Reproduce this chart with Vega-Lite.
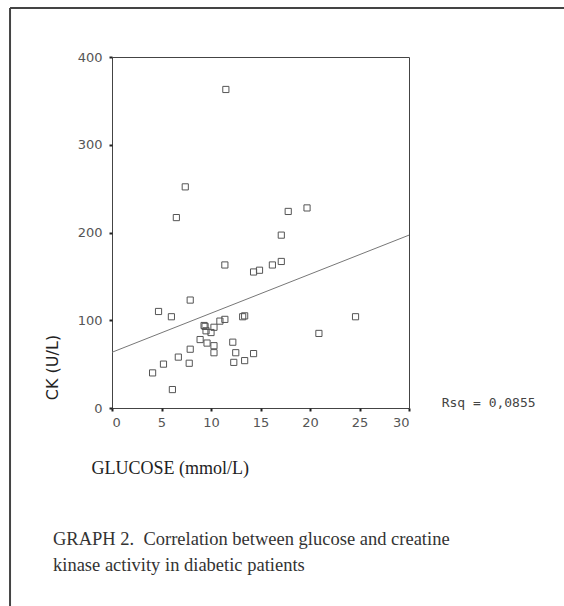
{
  "$schema": "https://vega.github.io/schema/vega-lite/v6.json",
  "autosize": "none",
  "width": 297,
  "height": 351,
  "padding": {"left": 112, "top": 57, "right": 155, "bottom": 198},
  "background": "white",
  "config": {
    "view": {"stroke": "#444", "strokeWidth": 1},
    "axis": {"grid": false, "domain": false, "labelFont": "DejaVu Sans", "labelFontSize": 13, "labelColor": "#555", "tickColor": "#222", "tickSize": 3, "tickWidth": 2}
  },
  "title": {
    "text": ["GRAPH 2.\u00a0 Correlation between glucose and creatine", "kinase activity in diabetic patients"],
    "orient": "bottom",
    "anchor": "start",
    "frame": "group",
    "dx": -59,
    "offset": -77,
    "font": "Liberation Serif",
    "fontSize": 18.5,
    "fontWeight": "normal",
    "color": "#333",
    "lineHeight": 26
  },
  "datasets": {
    "points": [
      {"glucose": 11.5, "ck": 363},
      {"glucose": 7.4, "ck": 252},
      {"glucose": 6.5, "ck": 217},
      {"glucose": 17.8, "ck": 224},
      {"glucose": 19.7, "ck": 228},
      {"glucose": 17.1, "ck": 197},
      {"glucose": 11.4, "ck": 163},
      {"glucose": 16.2, "ck": 163},
      {"glucose": 17.1, "ck": 167},
      {"glucose": 14.3, "ck": 155},
      {"glucose": 14.9, "ck": 157},
      {"glucose": 7.9, "ck": 123},
      {"glucose": 4.7, "ck": 110},
      {"glucose": 6.0, "ck": 104},
      {"glucose": 13.2, "ck": 104},
      {"glucose": 13.4, "ck": 105},
      {"glucose": 11.4, "ck": 101},
      {"glucose": 10.9, "ck": 99},
      {"glucose": 9.3, "ck": 94},
      {"glucose": 9.4, "ck": 93},
      {"glucose": 10.3, "ck": 92},
      {"glucose": 9.5, "ck": 88},
      {"glucose": 10.0, "ck": 86},
      {"glucose": 24.6, "ck": 104},
      {"glucose": 20.9, "ck": 85},
      {"glucose": 8.9, "ck": 78},
      {"glucose": 9.6, "ck": 74},
      {"glucose": 10.3, "ck": 71},
      {"glucose": 12.2, "ck": 75},
      {"glucose": 7.9, "ck": 67},
      {"glucose": 10.3, "ck": 63},
      {"glucose": 12.5, "ck": 63},
      {"glucose": 14.3, "ck": 62},
      {"glucose": 6.7, "ck": 58},
      {"glucose": 5.2, "ck": 50},
      {"glucose": 7.8, "ck": 51},
      {"glucose": 12.3, "ck": 52},
      {"glucose": 13.4, "ck": 54},
      {"glucose": 4.1, "ck": 40},
      {"glucose": 6.1, "ck": 21}
    ],
    "fit": [
      {"glucose": 0, "ck": 63.5},
      {"glucose": 30, "ck": 197}
    ],
    "rsq": [
      {"glucose": 33.3, "ck": 6, "label": "Rsq = 0,0855"}
    ],
    "frame": [
      {"x": -10.3, "x2": 46, "y": 455.8, "y2": -226}
    ]
  },
  "layer": [
    {
      "data": {"name": "fit"},
      "mark": {"type": "line", "color": "#777", "strokeWidth": 1},
      "encoding": {
        "x": {
          "field": "glucose", "type": "quantitative",
          "scale": {"domain": [0, 30], "nice": false},
          "axis": {
            "values": [0, 5, 10, 15, 20, 25, 30],
            "labelPadding": 5,
            "title": "GLUCOSE (mmol/L)",
            "titleFont": "Liberation Serif",
            "titleFontSize": 18,
            "titleFontWeight": "normal",
            "titleColor": "#222",
            "titleAlign": "left",
            "titleBaseline": "middle",
            "titleAnchor": null,
            "titleX": -21,
            "titleY": 60
          }
        },
        "y": {
          "field": "ck", "type": "quantitative",
          "scale": {"domain": [0, 400], "nice": false},
          "axis": {
            "values": [0, 100, 200, 300, 400],
            "labelPadding": 7,
            "title": "CK (U/L)",
            "titleFont": "DejaVu Sans",
            "titleFontSize": 16,
            "titleFontWeight": "normal",
            "titleColor": "#222",
            "titleAngle": 270,
            "titleAlign": "center",
            "titleBaseline": "middle",
            "titleX": -60,
            "titleY": 310
          }
        }
      }
    },
    {
      "data": {"name": "points"},
      "mark": {"type": "square", "filled": false, "size": 38, "color": "#555", "strokeWidth": 1, "opacity": 1},
      "encoding": {
        "x": {"field": "glucose", "type": "quantitative"},
        "y": {"field": "ck", "type": "quantitative"}
      }
    },
    {
      "data": {"name": "rsq"},
      "mark": {"type": "text", "align": "left", "baseline": "middle", "font": "DejaVu Sans Mono", "fontSize": 13, "color": "#444", "clip": false},
      "encoding": {
        "x": {"field": "glucose", "type": "quantitative"},
        "y": {"field": "ck", "type": "quantitative"},
        "text": {"field": "label"}
      }
    },
    {
      "data": {"name": "frame"},
      "mark": {"type": "rule", "color": "#444", "strokeWidth": 2, "clip": false},
      "encoding": {
        "x": {"field": "x", "type": "quantitative"},
        "y": {"field": "y", "type": "quantitative"},
        "y2": {"field": "y2"}
      }
    },
    {
      "data": {"name": "frame"},
      "mark": {"type": "rule", "color": "#444", "strokeWidth": 2, "clip": false},
      "encoding": {
        "x": {"field": "x", "type": "quantitative"},
        "x2": {"field": "x2"},
        "y": {"field": "y", "type": "quantitative"}
      }
    }
  ]
}
